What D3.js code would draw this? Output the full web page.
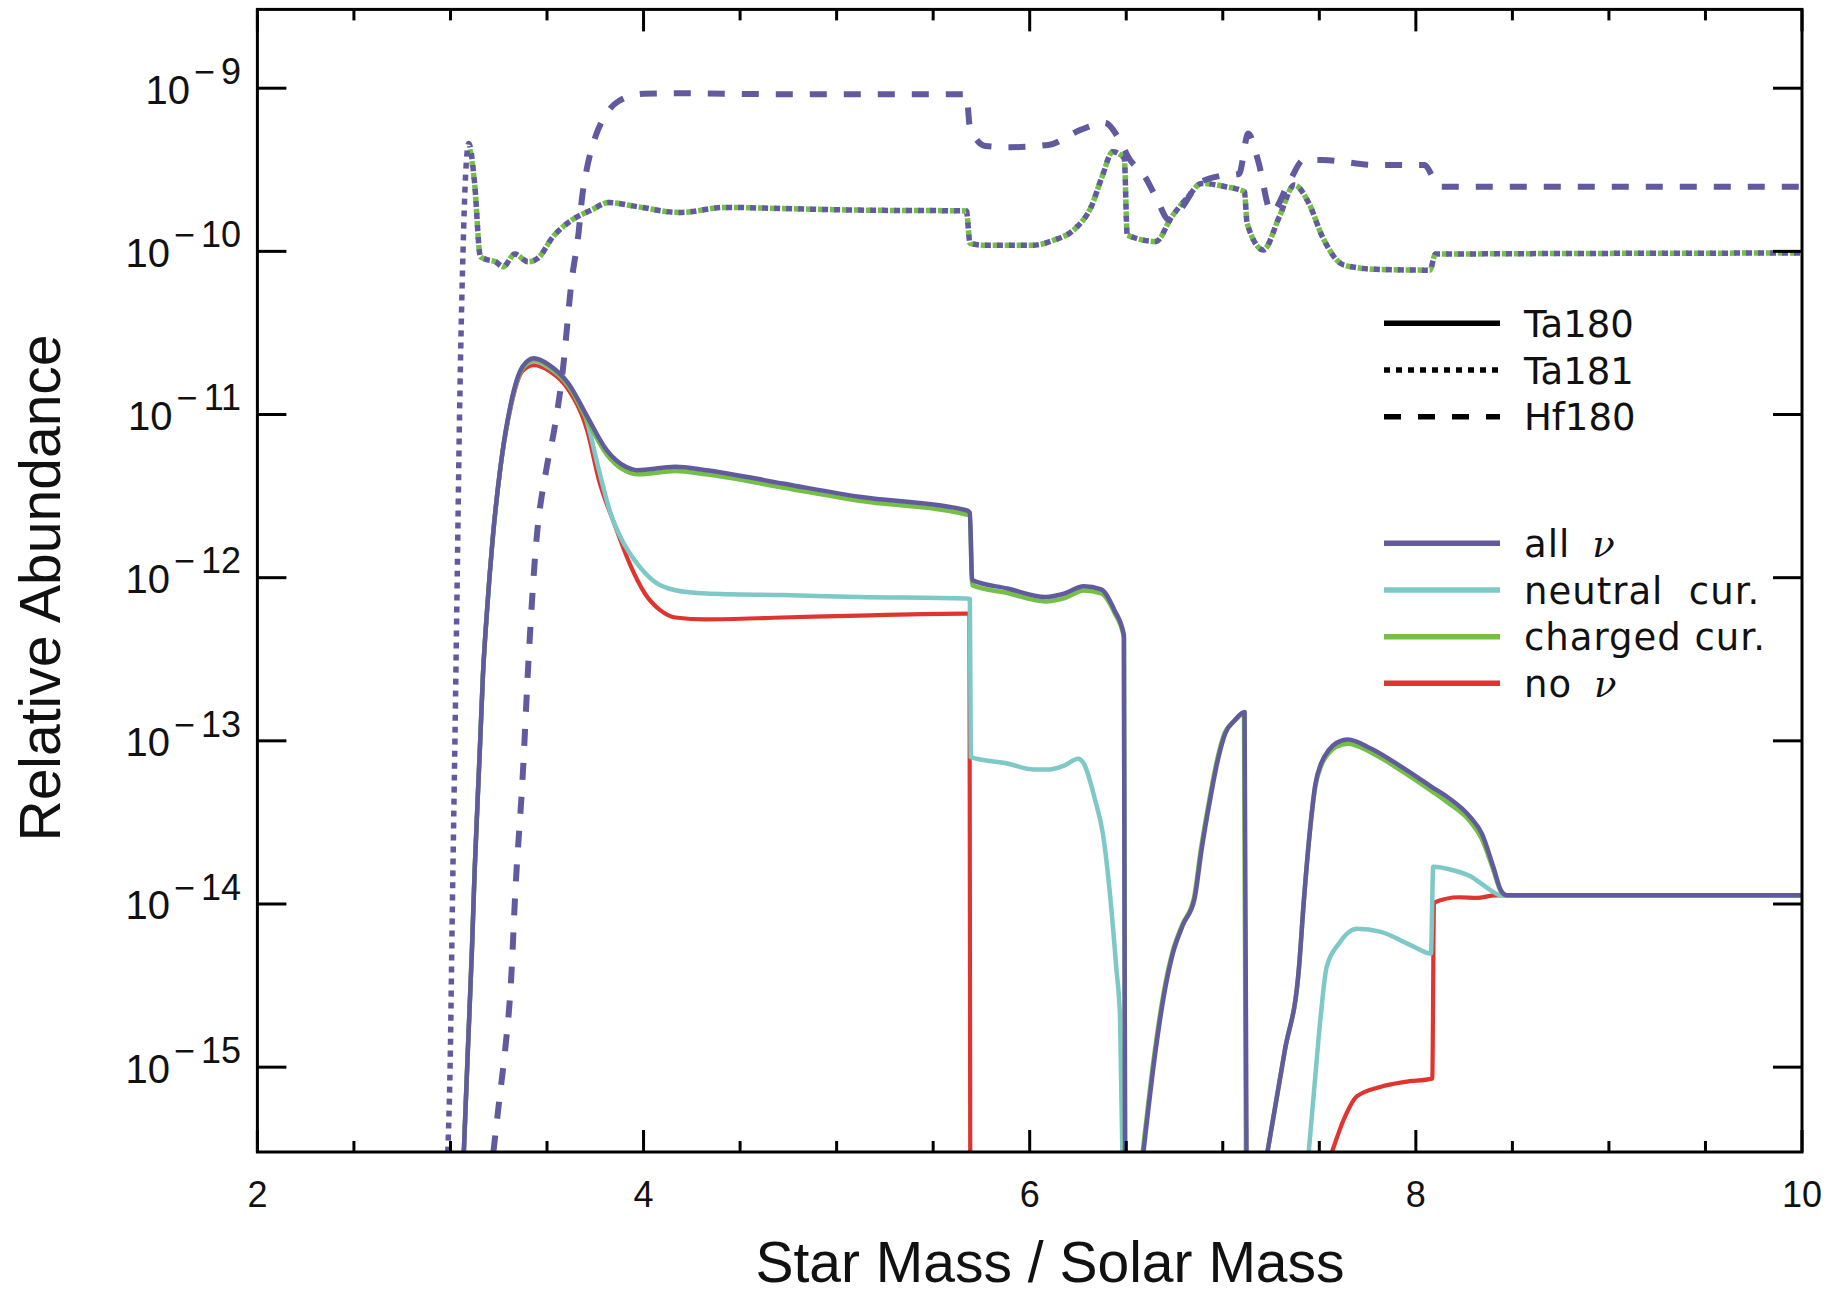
<!DOCTYPE html>
<html><head><meta charset="utf-8">
<script src="https://cdn.jsdelivr.net/npm/d3@7"></script>
<style>body{margin:0;background:#fff}</style>
</head><body>
<svg id="chart" width="1843" height="1295"></svg>
<script>
// ---------- DATA ----------
const massTicksMajor = [2, 4, 6, 8, 10];
const massTicksMinor = [2.5, 3, 3.5, 4.5, 5, 5.5, 6.5, 7, 7.5, 8.5, 9, 9.5];
const abundanceTickExp = [-9, -10, -11, -12, -13, -14, -15];
const isotopeLabels = ["Ta180", "Ta181", "Hf180"];
const caseLabels = ["all ν", "neutral  cur.", "charged cur.", "no ν"];

// Ta180, all neutrinos  [mass, abundance]; null = gap
const ta180_all = [
  [3.069,3e-16],[3.09,1.27e-15],[3.111,5.2e-15],[3.125,1.58e-14],[3.152,8.77e-14],[3.168,2.51e-13],
  [3.187,5.75e-13],[3.218,1.7e-12],[3.26,4.9e-12],[3.313,1.17e-11],[3.373,1.96e-11],[3.432,2.21e-11],
  [3.512,2.01e-11],[3.611,1.55e-11],[3.709,9.68e-12],[3.809,6.05e-12],[3.908,4.78e-12],[3.967,4.56e-12],
  [4.165,4.78e-12],[4.324,4.56e-12],[4.72,3.78e-12],[5.117,3.13e-12],[5.672,2.59e-12],[5.69,2.5e-12],
  [5.702,9.66e-13],[5.884,8.59e-13],[6.082,7.62e-13],[6.181,8.0e-13],[6.28,8.87e-13],[6.37,8.47e-13],
  [6.439,6.32e-13],[6.488,4.44e-13],[6.494,3e-16],
  null,
  [6.589,3e-16],[6.652,1.26e-15],[6.697,2.82e-15],[6.74,4.9e-15],[6.793,7.41e-15],[6.854,1.08e-14],
  [6.89,2.14e-14],[6.934,4.33e-14],[6.974,7.59e-14],[7.013,1.11e-13],[7.063,1.34e-13],[7.113,1.5e-13],
  [7.123,3e-16],
  null,
  [7.231,3e-16],[7.321,1.26e-15],[7.395,4.11e-15],[7.42,1.05e-14],[7.45,2.7e-14],[7.48,5.46e-14],
  [7.509,7.26e-14],[7.549,8.77e-14],[7.588,9.7e-14],[7.648,1.02e-13],[7.767,8.97e-14],[7.926,6.92e-14],
  [8.084,5.21e-14],[8.163,4.53e-14],[8.282,3.41e-14],[8.342,2.7e-14],[8.401,1.69e-14],[8.441,1.21e-14],
  [8.47,1.13e-14],[10,1.13e-14]
];
// Ta180, charged current only
const ta180_charged = [
  [3.069,3e-16],[3.09,1.27e-15],[3.111,5.2e-15],[3.125,1.58e-14],[3.152,8.77e-14],[3.168,2.51e-13],
  [3.187,5.75e-13],[3.218,1.7e-12],[3.26,4.85e-12],[3.313,1.15e-11],[3.373,1.92e-11],[3.432,2.16e-11],
  [3.512,1.96e-11],[3.611,1.5e-11],[3.709,9.2e-12],[3.809,5.7e-12],[3.908,4.5e-12],[3.967,4.3e-12],
  [4.165,4.5e-12],[4.324,4.3e-12],[4.72,3.57e-12],[5.117,2.96e-12],[5.672,2.44e-12],[5.69,2.4e-12],
  [5.702,9.0e-13],[5.884,8.05e-13],[6.082,7.15e-13],[6.181,7.5e-13],[6.28,8.35e-13],[6.37,8.0e-13],
  [6.439,6.1e-13],[6.488,4.3e-13],[6.494,3e-16],
  null,
  [6.585,3e-16],[6.648,1.26e-15],[6.693,2.82e-15],[6.736,4.9e-15],[6.789,7.41e-15],[6.85,1.08e-14],
  [6.886,2.14e-14],[6.93,4.33e-14],[6.97,7.59e-14],[7.009,1.11e-13],[7.06,1.32e-13],[7.11,1.47e-13],
  [7.12,3e-16],
  null,
  [7.231,3e-16],[7.321,1.26e-15],[7.395,4.11e-15],[7.42,1.05e-14],[7.45,2.7e-14],[7.48,5.3e-14],
  [7.509,7.0e-14],[7.549,8.4e-14],[7.588,9.2e-14],[7.648,9.6e-14],[7.767,8.5e-14],[7.926,6.55e-14],
  [8.084,4.9e-14],[8.163,4.2e-14],[8.282,3.2e-14],[8.342,2.5e-14],[8.401,1.62e-14],[8.441,1.19e-14],
  [8.47,1.13e-14],[10,1.13e-14]
];
// Ta180, neutral current only
const ta180_neutral = [
  [3.069,3e-16],[3.09,1.27e-15],[3.111,5.2e-15],[3.125,1.58e-14],[3.152,8.77e-14],[3.168,2.51e-13],
  [3.187,5.75e-13],[3.218,1.7e-12],[3.26,4.85e-12],[3.313,1.15e-11],[3.373,1.92e-11],[3.432,2.12e-11],
  [3.512,1.93e-11],[3.611,1.5e-11],[3.709,8.9e-12],[3.769,4.56e-12],[3.829,2.48e-12],[3.888,1.7e-12],
  [3.967,1.22e-12],[4.047,9.66e-13],[4.165,8.38e-13],[4.324,8.0e-13],[4.72,7.82e-13],[5.117,7.62e-13],
  [5.672,7.45e-13],[5.69,7.4e-13],[5.695,7.94e-14],[5.884,7.26e-14],[6.023,6.67e-14],[6.102,6.67e-14],
  [6.181,7.08e-14],[6.251,7.78e-14],[6.28,7.26e-14],[6.339,4.33e-14],[6.379,2.7e-14],[6.419,1.05e-14],
  [6.448,4.11e-15],[6.468,2.0e-15],[6.48,3e-16],
  null,
  [7.445,3e-16],[7.476,7.94e-16],[7.507,2.04e-15],[7.538,4.11e-15],[7.601,5.71e-15],[7.694,7.06e-15],
  [7.819,6.75e-15],[7.975,5.58e-15],[8.078,4.97e-15],[8.09,1.69e-14],[8.193,1.61e-14],[8.287,1.47e-14],
  [8.364,1.27e-14],[8.442,1.13e-14],[10,1.13e-14]
];
// Ta180, no neutrinos
const ta180_none = [
  [3.069,3e-16],[3.09,1.27e-15],[3.111,5.2e-15],[3.125,1.58e-14],[3.152,8.77e-14],[3.168,2.51e-13],
  [3.187,5.75e-13],[3.218,1.7e-12],[3.26,4.8e-12],[3.313,1.12e-11],[3.373,1.85e-11],[3.432,2.01e-11],
  [3.512,1.85e-11],[3.611,1.42e-11],[3.709,7.9e-12],[3.769,3.96e-12],[3.848,2.15e-12],[3.928,1.22e-12],
  [4.007,8.0e-13],[4.086,6.32e-13],[4.165,5.7e-13],[4.324,5.55e-13],[4.72,5.7e-13],[5.117,5.86e-13],
  [5.672,6.03e-13],[5.688,6.03e-13],[5.692,3e-16],
  null,
  [7.565,3e-16],[7.632,4.94e-16],[7.694,6.61e-16],[7.819,7.59e-16],[7.944,8.13e-16],[8.085,8.51e-16],
  [8.094,1.02e-14],[8.224,1.1e-14],[8.318,1.09e-14],[8.411,1.13e-14],[10,1.13e-14]
];
// Ta181, all neutrinos
const ta181_all = [
  [2.986,3e-16],[2.998,1e-15],[3.01,1e-14],[3.023,1e-13],[3.035,1e-12],[3.047,1e-11],[3.065,1e-10],
  [3.078,2.88e-10],[3.095,4.59e-10],[3.125,2.61e-10],[3.155,9.27e-11],[3.184,8.93e-11],[3.234,8.63e-11],
  [3.273,8.05e-11],[3.333,9.62e-11],[3.402,8.63e-11],[3.452,9.06e-11],[3.531,1.23e-10],[3.63,1.56e-10],
  [3.73,1.79e-10],[3.819,1.99e-10],[3.967,1.88e-10],[4.185,1.73e-10],[4.423,1.86e-10],[4.72,1.83e-10],
  [5.117,1.79e-10],[5.672,1.77e-10],[5.691,1.12e-10],[5.77,1.09e-10],[6.013,1.09e-10],[6.124,1.17e-10],
  [6.236,1.38e-10],[6.319,1.88e-10],[6.375,2.87e-10],[6.43,4.08e-10],[6.49,3.72e-10],[6.505,1.26e-10],
  [6.653,1.15e-10],[6.736,1.63e-10],[6.82,2.16e-10],[6.89,2.61e-10],[7.015,2.49e-10],[7.112,2.32e-10],
  [7.126,1.49e-10],[7.21,1.02e-10],[7.293,1.63e-10],[7.371,2.55e-10],[7.446,1.97e-10],[7.516,1.23e-10],
  [7.628,8.24e-11],[7.794,7.76e-11],[8.073,7.67e-11],[8.101,9.62e-11],[10,9.77e-11]
];
// Ta181, charged current (visible from its first maximum on)
const ta181_charged = ta181_all.filter(d => d[0] >= 3.095);
// Hf180, all neutrinos
const hf180_all = [
  [3.222,3e-16],[3.253,6.31e-16],[3.283,1.27e-15],[3.313,3.27e-15],[3.337,1.26e-14],[3.372,5.5e-14],
  [3.407,3.59e-13],[3.441,1.48e-12],[3.499,4.79e-12],[3.534,7.66e-12],[3.58,1.79e-11],[3.626,6.37e-11],
  [3.665,1.35e-10],[3.68,2.06e-10],[3.705,3.15e-10],[3.75,5.01e-10],[3.809,7.01e-10],[3.87,8.32e-10],
  [4.0,9.25e-10],[4.205,9.31e-10],[4.72,9.18e-10],[5.672,9.18e-10],[5.69,5.81e-10],[5.77,4.43e-10],
  [5.902,4.35e-10],[6.096,4.49e-10],[6.263,5.55e-10],[6.388,6.15e-10],[6.458,5.0e-10],[6.514,3.72e-10],
  [6.597,2.87e-10],[6.653,2.16e-10],[6.723,1.56e-10],[6.792,1.88e-10],[6.876,2.61e-10],[6.987,2.9e-10],
  [7.084,2.98e-10],[7.132,5.28e-10],[7.182,3.63e-10],[7.252,1.74e-10],[7.349,2.74e-10],[7.419,3.63e-10],
  [7.516,3.63e-10],[7.794,3.38e-10],[8.045,3.38e-10],[8.087,2.87e-10],[8.129,2.49e-10],[10,2.49e-10]
];

// ---------- STYLE / LAYOUT ----------
const L = 257.4, R = 1802, T = 9.4, B = 1152;
const COL = {all: "#615a9f", neutral: "#7ec8c8", charged: "#74bf45", none: "#e0352f"};

const svg = d3.select("#chart");
const x = d3.scaleLinear().domain([2, 10]).range([L, R]);
const y = d3.scaleLog().domain([Math.pow(10, -15.52), Math.pow(10, -8.517)]).range([B, T]);

svg.append("defs").append("clipPath").attr("id", "plotclip")
  .append("rect").attr("x", L).attr("y", T).attr("width", R - L).attr("height", B - T);

const line = d3.line().defined(d => d !== null).x(d => x(d[0])).y(d => y(d[1]))
  .curve(d3.curveMonotoneX);
const plot = svg.append("g").attr("clip-path", "url(#plotclip)");

const solids = [
  {data: ta180_none, color: COL.none, w: 4.2},
  {data: ta180_neutral, color: COL.neutral, w: 4.5},
  {data: ta180_charged, color: COL.charged, w: 4.5},
  {data: ta180_all, color: COL.all, w: 4.5}
];
solids.forEach(s => plot.append("path").attr("d", line(s.data)).attr("fill", "none")
  .attr("stroke", s.color).attr("stroke-width", s.w).attr("stroke-linejoin", "round"));

plot.append("path").attr("d", line(ta181_charged)).attr("fill", "none").attr("stroke", COL.charged)
  .attr("stroke-width", 5.5).attr("stroke-dasharray", "6,6").attr("stroke-dashoffset", 6);
plot.append("path").attr("d", line(ta181_all)).attr("fill", "none").attr("stroke", COL.all)
  .attr("stroke-width", 5.5).attr("stroke-dasharray", "6,6");
plot.append("path").attr("d", line(hf180_all)).attr("fill", "none").attr("stroke", COL.all)
  .attr("stroke-width", 6).attr("stroke-dasharray", "17,17");

// ---------- AXES ----------
const ax = svg.append("g").attr("stroke", "#000").attr("stroke-width", 3);
ax.append("rect").attr("x", L).attr("y", T).attr("width", R - L).attr("height", B - T).attr("fill", "none");
massTicksMajor.forEach(v => {
  ax.append("line").attr("x1", x(v)).attr("x2", x(v)).attr("y1", B).attr("y2", B - 22);
  ax.append("line").attr("x1", x(v)).attr("x2", x(v)).attr("y1", T).attr("y2", T + 22);
});
massTicksMinor.forEach(v => {
  ax.append("line").attr("x1", x(v)).attr("x2", x(v)).attr("y1", B).attr("y2", B - 11);
  ax.append("line").attr("x1", x(v)).attr("x2", x(v)).attr("y1", T).attr("y2", T + 11);
});
abundanceTickExp.forEach(e => {
  const yy = y(Math.pow(10, e));
  ax.append("line").attr("x1", L).attr("x2", L + 29).attr("y1", yy).attr("y2", yy);
  ax.append("line").attr("x1", R).attr("x2", R - 29).attr("y1", yy).attr("y2", yy);
});

const FONT = "'Liberation Sans', Arial, sans-serif";
massTicksMajor.forEach(v => {
  svg.append("text").attr("x", x(v)).attr("y", 1207).attr("text-anchor", "middle")
    .attr("font-family", FONT).attr("font-size", 36).attr("fill", "#111").text(v);
});
abundanceTickExp.forEach(e => {
  const yy = y(Math.pow(10, e));
  const t = svg.append("text").attr("x", 241).attr("y", yy + 15.5).attr("text-anchor", "end")
    .attr("font-family", FONT).attr("fill", "#111");
  t.append("tspan").attr("font-size", 40).text("10");
  t.append("tspan").attr("font-size", 36).attr("dx", 4).attr("dy", -19.7).text("\u2212");
  t.append("tspan").attr("font-size", 36).attr("dx", 6).text(String(-e));
});

svg.append("text").attr("transform", `translate(60,588) rotate(-90)`).attr("text-anchor", "middle")
  .attr("font-family", FONT).attr("font-size", 57).attr("fill", "#111").text("Relative Abundance");
svg.append("text").attr("x", 1050).attr("y", 1282).attr("text-anchor", "middle")
  .attr("font-family", FONT).attr("font-size", 57).attr("fill", "#111").text("Star Mass / Solar Mass");

// ---------- LEGEND ----------
const LFONT = "'DejaVu Sans', sans-serif";
const lx1 = 1384, lx2 = 1500, ltx = 1524;
const isoStyles = [null, "6,6", "17,17"];
const isoY = [323.3, 370, 416.7];
isotopeLabels.forEach((lab, i) => {
  const ln = svg.append("line").attr("x1", lx1).attr("x2", lx2).attr("y1", isoY[i]).attr("y2", isoY[i])
    .attr("stroke", "#000").attr("stroke-width", 5.5);
  if (isoStyles[i]) ln.attr("stroke-dasharray", isoStyles[i]);
  svg.append("text").attr("x", ltx).attr("y", isoY[i] + 13.5).attr("font-family", LFONT)
    .attr("font-size", 37).attr("fill", "#111").text(lab);
});
const caseColors = [COL.all, COL.neutral, COL.charged, COL.none];
const caseY = [543.3, 590, 636.7, 683.3];
caseLabels.forEach((lab, i) => {
  svg.append("line").attr("x1", lx1).attr("x2", lx2).attr("y1", caseY[i]).attr("y2", caseY[i])
    .attr("stroke", caseColors[i]).attr("stroke-width", 5.5);
  const t = svg.append("text").attr("x", ltx).attr("y", caseY[i] + 13.5).attr("font-family", LFONT)
    .attr("font-size", 37).attr("fill", "#111").attr("letter-spacing", 1).style("white-space", "pre");
  if (lab.includes("ν")) {
    const parts = lab.split("ν");
    t.append("tspan").text(parts[0].trim());
    t.append("tspan").attr("dx", 22).attr("font-family", "'DejaVu Serif', serif").attr("font-style", "italic")
      .text("ν");
  } else {
    t.text(lab);
  }
});
</script>
</body></html>
